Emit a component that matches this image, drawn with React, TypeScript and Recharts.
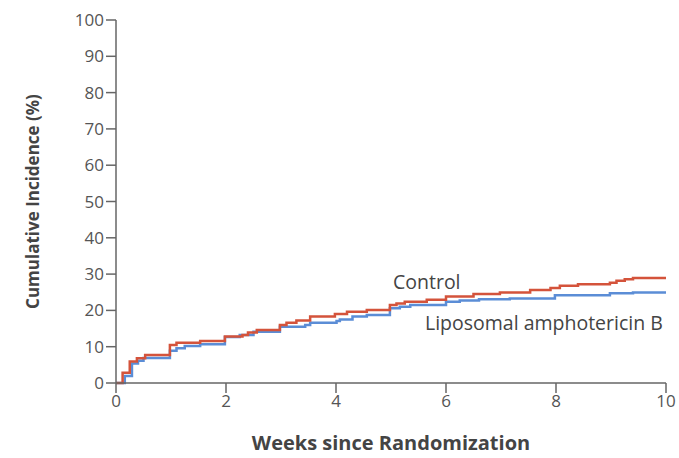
import { LineChart, Line, XAxis, YAxis } from 'recharts';

const controlWeeks = [0, 0.12, 0.25, 0.38, 0.53, 0.98, 1.1, 1.53, 1.98, 2.3, 2.4, 2.56, 2.98, 3.1, 3.28, 3.53, 3.98, 4.2, 4.56, 4.98, 5.1, 5.25, 5.65, 6.0, 6.5, 6.98, 7.53, 7.9, 8.07, 8.4, 8.98, 9.1, 9.25, 9.4, 10];
const controlPct = [0, 2.8, 5.9, 6.8, 7.7, 10.5, 11.1, 11.6, 12.8, 13.2, 13.9, 14.6, 16, 16.6, 17.2, 18.3, 19, 19.6, 20.1, 21.5, 21.9, 22.4, 22.9, 23.8, 24.5, 24.9, 25.6, 26.2, 26.8, 27.2, 27.6, 28.2, 28.6, 28.9, 28.9];

const liposomalWeeks = [0, 0.16, 0.29, 0.4, 0.5, 0.98, 1.1, 1.25, 1.53, 1.98, 2.25, 2.5, 2.98, 3.44, 3.53, 4.01, 4.07, 4.3, 4.56, 4.98, 5.16, 5.35, 6.0, 6.25, 6.6, 7.16, 7.98, 8.98, 9.4, 10];
const liposomalPct = [0, 1.9, 5.4, 6.1, 6.9, 8.9, 9.6, 10.2, 10.7, 12.7, 13.2, 14.1, 15.5, 16, 16.6, 17.1, 17.5, 18.3, 18.7, 20.6, 21, 21.5, 22.4, 22.7, 23.1, 23.3, 24.2, 24.7, 24.9, 24.9];

const xTicks = [0, 2, 4, 6, 8, 10];
const yTicks = [0, 10, 20, 30, 40, 50, 60, 70, 80, 90, 100];

const controlData = controlWeeks.map((t, i) => ({ t, v: controlPct[i] }));
const liposomalData = liposomalWeeks.map((t, i) => ({ t, v: liposomalPct[i] }));

const font = '"Open Sans", "Noto Sans", sans-serif';
const axisColor = '#666';
const textColor = '#555';

export default function App() {
  return (
    <div style={{ position: 'absolute', left: 0, top: 0, background: '#fff' }}>
      <LineChart width={679} height={458} margin={{ top: 20, right: 13, left: 0, bottom: 0 }}>
        <XAxis
          dataKey="t"
          type="number"
          domain={[0, 10]}
          ticks={xTicks}
          height={75}
          stroke={axisColor}
          strokeWidth={1.5}
          tickSize={10}
          tick={{ fill: textColor, fontSize: 17, fontFamily: font }}
          allowDuplicatedCategory={false}
          label={{
            value: 'Weeks since Randomization',
            position: 'insideBottom',
            offset: 8,
            style: { fill: '#444', fontSize: 20, fontWeight: 700, fontFamily: font },
          }}
        />
        <YAxis
          dataKey="v"
          type="number"
          domain={[0, 100]}
          ticks={yTicks}
          width={116}
          stroke={axisColor}
          strokeWidth={1.5}
          tickSize={10}
          tick={{ fill: textColor, fontSize: 17, fontFamily: font }}
          label={{
            value: 'Cumulative Incidence (%)',
            angle: -90,
            position: 'insideLeft',
            offset: 33,
            style: { fill: '#444', fontSize: 17, fontWeight: 700, fontFamily: font, textAnchor: 'middle' },
          }}
        />
        <Line data={liposomalData} dataKey="v" type="stepAfter" stroke="#5b8dd6" strokeWidth={2.5} dot={false} isAnimationActive={false} />
        <Line data={controlData} dataKey="v" type="stepAfter" stroke="#d4533b" strokeWidth={2.5} dot={false} isAnimationActive={false} />
        <text x={393} y={289} fill="#444" fontSize={19.5} fontFamily={font}>Control</text>
        <text x={425} y={330} fill="#444" fontSize={19.5} fontFamily={font}>Liposomal amphotericin B</text>
      </LineChart>
    </div>
  );
}
